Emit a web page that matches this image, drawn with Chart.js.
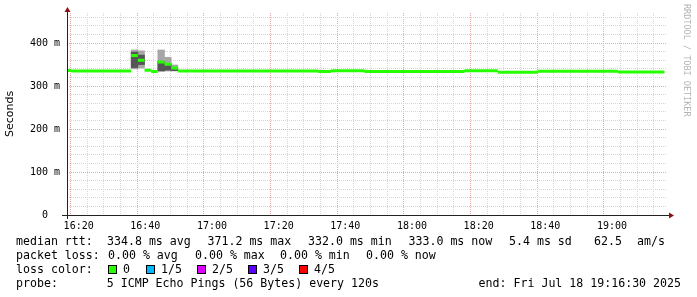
<!DOCTYPE html>
<html>
<head>
<meta charset="utf-8">
<script src="https://cdn.jsdelivr.net/npm/chart.js@4.4.1/dist/chart.umd.min.js"></script>
<style>
  body { margin: 0; background: #fff; }
  #wrap { position: relative; width: 697px; height: 297px; overflow: hidden; font-family: "DejaVu Sans Mono", monospace; }
  canvas { position: absolute; left: 0; top: 0; }
  .txt { position: absolute; font-size: 11.6px; line-height: 14px; white-space: pre; color: #000; }
  .box { position: absolute; width: 7px; height: 7px; border: 1px solid #000; }
  #mark { position: absolute; left: 682px; top: 4px; writing-mode: vertical-rl; font-size: 8.5px; color: #b4b4b4; white-space: pre; }
</style>
</head>
<body>
<div id="wrap">
  <canvas id="c" width="697" height="297"></canvas>
  <div id="mark">RRDTOOL / TOBI OETIKER</div>
  <div class="txt" style="left:16px;top:234px">median rtt:</div>
  <div class="txt" style="left:107px;top:234px">334.8 ms avg</div>
  <div class="txt" style="left:207.5px;top:234px">371.2 ms max</div>
  <div class="txt" style="left:308px;top:234px">332.0 ms min</div>
  <div class="txt" style="left:408.5px;top:234px">333.0 ms now</div>
  <div class="txt" style="left:509px;top:234px">5.4 ms sd</div>
  <div class="txt" style="left:594px;top:234px">62.5</div>
  <div class="txt" style="left:637px;top:234px">am/s</div>
  <div class="txt" style="left:16px;top:248px">packet loss:</div>
  <div class="txt" style="left:108px;top:248px">0.00 % avg</div>
  <div class="txt" style="left:195px;top:248px">0.00 % max</div>
  <div class="txt" style="left:280px;top:248px">0.00 % min</div>
  <div class="txt" style="left:366px;top:248px">0.00 % now</div>
  <div class="txt" style="left:16px;top:262px">loss color:</div>
  <div id="lossRow"></div>
  <div class="txt" style="left:16px;top:276px">probe:       5 ICMP Echo Pings (56 Bytes) every 120s</div>
  <div class="txt" style="right:16px;top:276px">end: Fri Jul 18 19:16:30 2025</div>
</div>
<script>
// time in minutes of the day, one step = one 120s probe
var firstStep = 975.75;   // 16:15:45
var stepLen = 2;
var viewStart = 976.5;    // 16:16:30
var viewEnd = 1156.5;     // 19:16:30

// median rtt (ms) per step
var medianRtt = [
  336.5, 335, 335, 335, 335, 335, 335, 335, 335, 335,
  371.2, 360, 337, 334, 356, 351, 342, 335, 335, 335,
  335, 335, 335, 335, 335, 335, 335, 335, 335, 335,
  335, 335, 335, 335, 335, 335, 335, 335, 334, 334,
  335.5, 335.5, 335.5, 335.5, 335.5, 334, 334, 334, 334, 334,
  334, 334, 334, 334, 334, 334, 334, 334, 334, 334,
  335.5, 335.5, 335.5, 335.5, 335.5, 332, 332, 332, 332, 332,
  332, 334.5, 334.5, 334.5, 334.5, 334.5, 334.5, 334.5, 334.5, 334.5,
  334.5, 334.5, 334.5, 333, 333, 333, 333, 333, 333, 333
];

// smoke (ping spread) for the steps that show some
var smokeStep = [10, 11, 14, 15, 16];
var smokeOuterLow  = [340, 342, 335, 335, 335];
var smokeOuterHigh = [384, 382, 384, 367, 349];
var smokeInnerLow  = [343, 350, 335, 337, 336];
var smokeInnerHigh = [379, 372, 357, 352, 343];

// loss colour legend
var lossLabels = ['0', '1/5', '2/5', '3/5', '4/5'];
var lossColors = ['#26ff00', '#00b8ff', '#dd00ff', '#5e00ff', '#ff0000'];
var lossBoxX = [108, 146, 197, 248, 299];

function hhmm(v) {
  var h = Math.floor(v / 60), m = Math.round(v % 60);
  return (h < 10 ? '0' : '') + h + ':' + (m < 10 ? '0' : '') + m;
}

// median drawn as flat pieces, no vertical joins
var medianPts = [];
for (var k = 0; k < medianRtt.length; k++) {
  var t = firstStep + k * stepLen;
  if (k > 0 && medianRtt[k] === medianRtt[k - 1]) {
    medianPts[medianPts.length - 1].x = t + stepLen;
  } else {
    if (k > 0) medianPts.push({x: t, y: null});
    medianPts.push({x: t, y: medianRtt[k]});
    medianPts.push({x: t + stepLen, y: medianRtt[k]});
  }
}

var outerBars = [], innerBars = [];
for (var i = 0; i < smokeStep.length; i++) {
  var mid = firstStep + smokeStep[i] * stepLen + stepLen / 2;
  outerBars.push({x: mid, y: [smokeOuterLow[i], smokeOuterHigh[i]]});
  innerBars.push({x: mid, y: [smokeInnerLow[i], smokeInnerHigh[i]]});
}

var row = document.getElementById('lossRow');
for (var j = 0; j < lossLabels.length; j++) {
  var b = document.createElement('div');
  b.className = 'box';
  b.style.left = lossBoxX[j] + 'px';
  b.style.top = '265px';
  b.style.background = lossColors[j];
  row.appendChild(b);
  var l = document.createElement('div');
  l.className = 'txt';
  l.style.left = (lossBoxX[j] + 15) + 'px';
  l.style.top = '262px';
  l.textContent = lossLabels[j];
  row.appendChild(l);
}

var axisArrows = {
  id: 'axisArrows',
  afterDatasetsDraw: function(chart) {
    var ctx = chart.ctx, a = chart.chartArea;
    ctx.save();
    ctx.strokeStyle = '#222';
    ctx.lineWidth = 1;
    ctx.beginPath();
    ctx.moveTo(a.left - 5, a.bottom + 0.5);
    ctx.lineTo(a.right + 3, a.bottom + 0.5);
    ctx.moveTo(a.left + 0.5, a.bottom + 4);
    ctx.lineTo(a.left + 0.5, a.top - 2);
    ctx.stroke();
    ctx.fillStyle = '#8b1010';
    ctx.beginPath();
    ctx.moveTo(a.right + 2, a.bottom - 2.5);
    ctx.lineTo(a.right + 7, a.bottom + 0.5);
    ctx.lineTo(a.right + 2, a.bottom + 3.5);
    ctx.closePath();
    ctx.fill();
    ctx.beginPath();
    ctx.moveTo(a.left - 2.5, a.top - 1);
    ctx.lineTo(a.left + 0.5, a.top - 6);
    ctx.lineTo(a.left + 3.5, a.top - 1);
    ctx.closePath();
    ctx.fill();
    ctx.restore();
  }
};

var minorGrid = '#d6d6d6';
var majorGrid = '#eca8a8';

new Chart(document.getElementById('c'), {
  type: 'line',
  data: {
    datasets: [
      {
        type: 'line', data: medianPts, borderColor: '#26ff00', borderWidth: 3,
        borderCapStyle: 'butt', pointRadius: 0, spanGaps: false, order: 0
      },
      {
        type: 'bar', data: innerBars, backgroundColor: '#555555', borderWidth: 0,
        grouped: false, barPercentage: 1, categoryPercentage: 1, order: 1
      },
      {
        type: 'bar', data: outerBars, backgroundColor: '#a6a6a6', borderWidth: 0,
        grouped: false, barPercentage: 1, categoryPercentage: 1, order: 2
      }
    ]
  },
  options: {
    responsive: false,
    animation: false,
    events: [],
    layout: { padding: { top: 13, right: 30, left: 0, bottom: 0 } },
    plugins: { legend: { display: false }, tooltip: { enabled: false } },
    scales: {
      x: {
        type: 'linear', min: viewStart, max: viewEnd, offset: false,
        afterBuildTicks: function(s) {
          var ticks = [];
          for (var v = 980; v <= viewEnd; v += 5) ticks.push({value: v});
          s.ticks = ticks;
        },
        afterFit: function(s) { s.height = 82; },
        border: { display: false, dash: [1, 1] },
        grid: {
          drawTicks: false,
          color: function(c) { return c.tick && c.tick.value % 20 === 0 ? majorGrid : minorGrid; }
        },
        ticks: {
          autoSkip: false, maxRotation: 0, padding: 5, color: '#000',
          font: { family: 'DejaVu Sans Mono', size: 10 },
          callback: function(v) { return v % 20 === 0 ? hhmm(v) : ''; }
        }
      },
      y: {
        type: 'linear', min: 0, max: 470,
        afterBuildTicks: function(s) {
          var ticks = [];
          for (var v = 0; v <= 460; v += 20) ticks.push({value: v});
          s.ticks = ticks;
        },
        afterFit: function(s) { s.width = 67; },
        border: { display: false, dash: [1, 1] },
        grid: {
          drawTicks: false,
          color: function(c) { return c.tick && c.tick.value % 100 === 0 ? majorGrid : minorGrid; }
        },
        title: {
          display: true, text: 'Seconds', color: '#000',
          font: { family: 'DejaVu Sans', size: 11 }, padding: { top: 4, bottom: 0 }
        },
        ticks: {
          autoSkip: false, padding: 7, color: '#000',
          font: { family: 'DejaVu Sans Mono', size: 10 },
          callback: function(v) {
            if (v % 100 !== 0) return '';
            return v === 0 ? '0  ' : v + ' m';
          }
        }
      }
    }
  },
  plugins: [axisArrows]
});
</script>
</body>
</html>
